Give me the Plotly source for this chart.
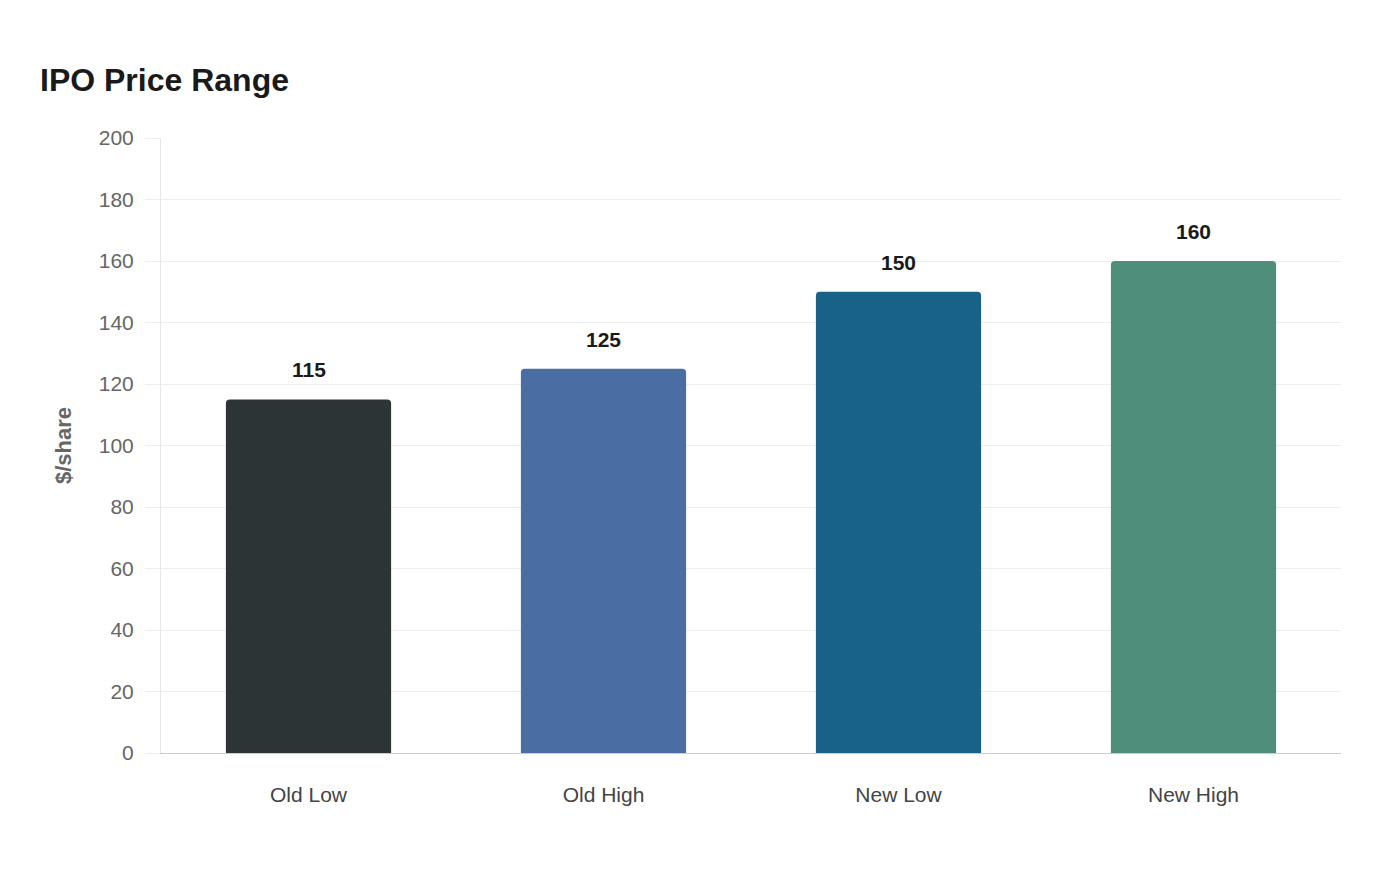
import plotly.graph_objects as go

# data
categories = ["Old Low", "Old High", "New Low", "New High"]
prices = [115, 125, 150, 160]
bar_colors = ["#2d3436", "#4a6ea4", "#186187", "#4e8e7b"]
y_ticks = [0, 20, 40, 60, 80, 100, 120, 140, 160, 180, 200]

fig = go.Figure()
fig.add_bar(x=categories, y=prices,
            marker=dict(color=bar_colors, cornerradius=4, line=dict(width=0)),
            hoverinfo="x+y", showlegend=False)

# value labels above the bars
for c, v in zip(categories, prices):
    fig.add_annotation(x=c, y=v, text="<b>%d</b>" % v, showarrow=False,
                       yanchor="bottom", yshift=16,
                       font=dict(size=21, color="#1a1a1a"))

fig.update_layout(
    width=1400, height=880,
    margin=dict(l=153, r=67, t=130, b=135),
    paper_bgcolor="white", plot_bgcolor="white",
    font=dict(family="Liberation Sans, Arial, sans-serif", color="#666666"),
    title=dict(text="<b>IPO Price Range</b>", x=32 / 1400, xanchor="left",
               y=1 - 72 / 880, yanchor="middle",
               font=dict(size=32, color="#1a1a1a")),
    bargap=0.44,
    xaxis=dict(showgrid=False, showline=True, linecolor="#cccccc", linewidth=1,
               ticks="", tickfont=dict(size=21, color="#444444"),
               ticklabelstandoff=23),
    yaxis=dict(range=[0, 200], tickvals=y_ticks, showgrid=True,
               gridcolor="#eeeeee", gridwidth=1, zeroline=False,
               showline=True, linecolor="#e6e6e6", linewidth=1,
               ticks="outside", ticklen=15, tickcolor="#eeeeee",
               ticklabelstandoff=7,
               tickfont=dict(size=21, color="#666666"),
               title=dict(text="<b>$/share</b>", standoff=21,
                          font=dict(size=22, color="#666666"))),
)

fig.write_html("out.html")
